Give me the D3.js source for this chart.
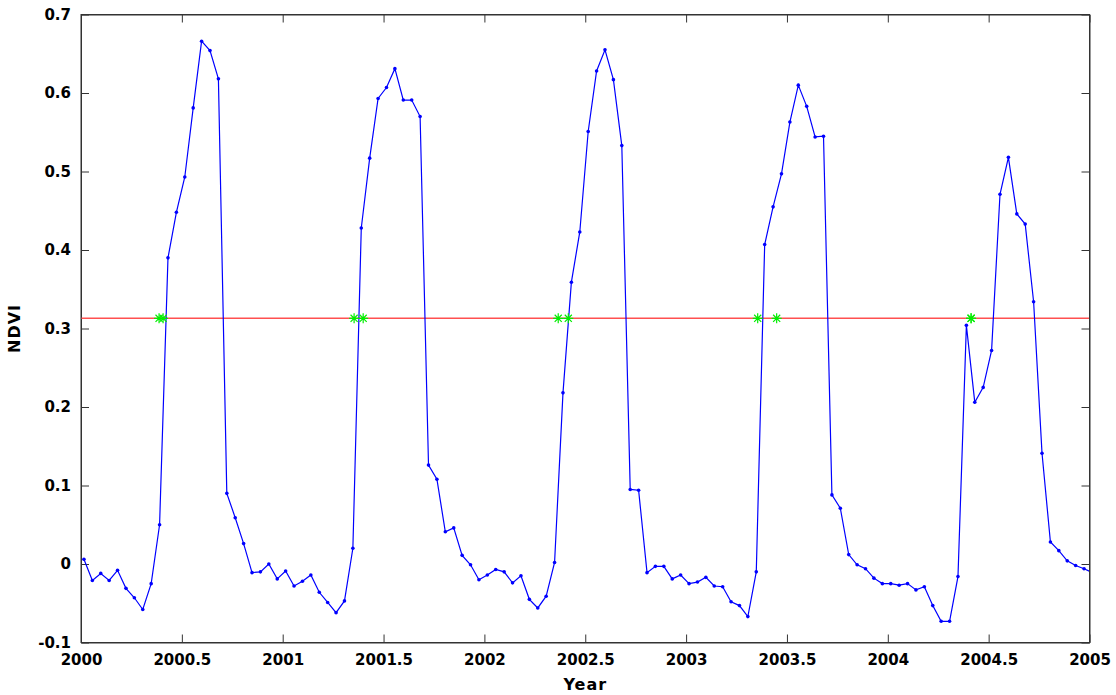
<!DOCTYPE html>
<html>
<head>
<meta charset="utf-8">
<script src="https://cdn.jsdelivr.net/npm/d3@7"></script>
<style>
  body { margin: 0; background: #fff; }
  .axis text { font-family: "DejaVu Sans", sans-serif; font-weight: bold; font-size: 15px; fill: #000; }
  .axis path, .axis line { stroke: #333; }
  .label { font-family: "DejaVu Sans", sans-serif; font-weight: bold; font-size: 16px; letter-spacing: 1px; fill: #000; }
</style>
</head>
<body>
<script>
// NDVI, 24 composites per year
var years = [2000, 2001, 2002, 2003, 2004, 2005];
var ndvi2000 = [0.006, -0.021, -0.012, -0.021, -0.008, -0.031, -0.043, -0.058, -0.025, 0.050, 0.390, 0.448,
                0.493, 0.581, 0.666, 0.654, 0.618, 0.090, 0.059, 0.026, -0.011, -0.010, 0.000, -0.019];
var ndvi2001 = [-0.009, -0.028, -0.022, -0.014, -0.036, -0.049, -0.062, -0.047, 0.020, 0.428, 0.517, 0.593,
                0.607, 0.631, 0.591, 0.591, 0.570, 0.126, 0.108, 0.041, 0.046, 0.011, -0.001, -0.020];
var ndvi2002 = [-0.014, -0.007, -0.010, -0.024, -0.015, -0.045, -0.056, -0.041, 0.002, 0.218, 0.359, 0.423,
                0.551, 0.628, 0.655, 0.617, 0.533, 0.095, 0.094, -0.011, -0.003, -0.003, -0.019, -0.014];
var ndvi2003 = [-0.025, -0.023, -0.017, -0.028, -0.029, -0.048, -0.053, -0.067, -0.010, 0.407, 0.455, 0.497,
                0.563, 0.610, 0.583, 0.544, 0.545, 0.088, 0.071, 0.012, -0.001, -0.006, -0.018, -0.025];
var ndvi2004 = [-0.025, -0.027, -0.025, -0.033, -0.029, -0.053, -0.073, -0.073, -0.016, 0.304, 0.206, 0.225,
                0.272, 0.471, 0.518, 0.446, 0.433, 0.334, 0.141, 0.028, 0.017, 0.004, -0.002, -0.006];
var ndvi2005 = [-0.011];

// threshold and the start-of-season estimates (green stars)
var threshold = 0.313;
var sosDates = [2000.387, 2000.407, 2001.354, 2001.399, 2002.366, 2002.416, 2003.355, 2003.449, 2004.413, 2004.413];

var xTicks = [2000, 2000.5, 2001, 2001.5, 2002, 2002.5, 2003, 2003.5, 2004, 2004.5, 2005];
var yTicks = [-0.1, 0, 0.1, 0.2, 0.3, 0.4, 0.5, 0.6, 0.7];

var width = 1116;
var height = 695;
var margin = { top: 14.5, right: 26.5, bottom: 52.5, left: 81 };
var w = width - margin.left - margin.right;
var h = height - margin.top - margin.bottom;

var series = [ndvi2000, ndvi2001, ndvi2002, ndvi2003, ndvi2004, ndvi2005];
var points = [];
series.forEach(function(vals, i) {
  vals.forEach(function(v, k) {
    points.push({ t: years[i] + (k + 0.35) / 24, v: v });
  });
});

var x = d3.scaleLinear().domain([2000, 2005]).range([0, w]);
var y = d3.scaleLinear().domain([-0.1, 0.7]).range([h, 0]);

var svg = d3.select("body")
  .append("svg")
  .attr("width", width)
  .attr("height", height);

var g = svg.append("g")
  .attr("transform", "translate(" + margin.left + "," + margin.top + ")");

g.append("clipPath")
  .attr("id", "clip")
  .append("rect")
  .attr("width", w)
  .attr("height", h);

var fmtX = function(d) { return String(d); };
var fmtY = function(d) { return d === 0 ? "0" : d.toFixed(1); };

// axes, ticks pointing inward on all four sides
g.append("g")
  .attr("class", "axis")
  .attr("transform", "translate(0," + h + ")")
  .call(d3.axisBottom(x).tickValues(xTicks).tickFormat(fmtX).tickSizeInner(-8).tickSizeOuter(0).tickPadding(12));

g.append("g")
  .attr("class", "axis")
  .call(d3.axisLeft(y).tickValues(yTicks).tickFormat(fmtY).tickSizeInner(-8).tickSizeOuter(0).tickPadding(10));

g.append("g")
  .attr("class", "axis")
  .call(d3.axisTop(x).tickValues(xTicks).tickFormat("").tickSizeInner(-8).tickSizeOuter(0));

g.append("g")
  .attr("class", "axis")
  .attr("transform", "translate(" + w + ",0)")
  .call(d3.axisRight(y).tickValues(yTicks).tickFormat("").tickSizeInner(-8).tickSizeOuter(0));

var plot = g.append("g").attr("clip-path", "url(#clip)");

// threshold line
plot.append("line")
  .attr("x1", 0)
  .attr("x2", w)
  .attr("y1", y(threshold))
  .attr("y2", y(threshold))
  .attr("stroke", "#ff5050")
  .attr("stroke-width", 1.5);

var line = d3.line()
  .x(function(d) { return x(d.t); })
  .y(function(d) { return y(d.v); });

plot.append("path")
  .datum(points)
  .attr("fill", "none")
  .attr("stroke", "#0000ff")
  .attr("stroke-width", 1.2)
  .attr("d", line);

plot.selectAll("circle.pt")
  .data(points)
  .enter()
  .append("circle")
  .attr("class", "pt")
  .attr("cx", function(d) { return x(d.t); })
  .attr("cy", function(d) { return y(d.v); })
  .attr("r", 1.8)
  .attr("fill", "#0000ff");

// asterisk markers
var star = d3.symbol().type({
  draw: function(ctx, size) {
    var r = Math.sqrt(size) / 2;
    var d = r * 0.7071;
    ctx.moveTo(-r, 0); ctx.lineTo(r, 0);
    ctx.moveTo(0, -r); ctx.lineTo(0, r);
    ctx.moveTo(-d, -d); ctx.lineTo(d, d);
    ctx.moveTo(-d, d); ctx.lineTo(d, -d);
  }
}).size(100);

plot.selectAll("path.sos")
  .data(sosDates)
  .enter()
  .append("path")
  .attr("class", "sos")
  .attr("d", star)
  .attr("transform", function(d) { return "translate(" + x(d) + "," + y(threshold) + ")"; })
  .attr("fill", "none")
  .attr("stroke", "#00ee00")
  .attr("stroke-width", 1.2);

// box
g.append("rect")
  .attr("width", w)
  .attr("height", h)
  .attr("fill", "none")
  .attr("stroke", "#333");

svg.append("text")
  .attr("class", "label")
  .attr("x", margin.left + w / 2)
  .attr("y", 690)
  .attr("text-anchor", "middle")
  .text("Year");

svg.append("text")
  .attr("class", "label")
  .attr("transform", "translate(20," + (margin.top + h / 2) + ") rotate(-90)")
  .attr("text-anchor", "middle")
  .text("NDVI");
</script>
</body>
</html>
